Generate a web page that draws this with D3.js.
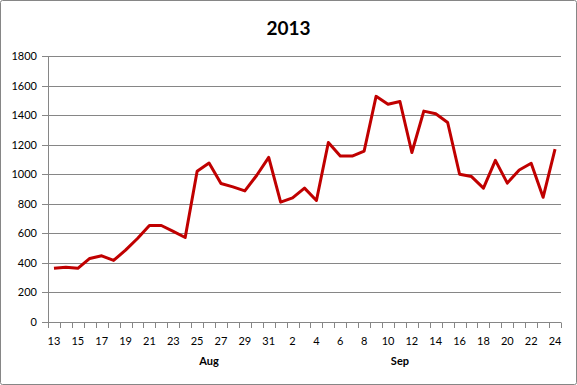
<!DOCTYPE html>
<html lang="en">
<head>
<meta charset="utf-8">
<style type="text/css">
    body { margin: 0; background: #fff; }
    text { font-family: Lato, "Open Sans", sans-serif; fill: #000; }
    .grid line { stroke: #868686; stroke-width: 1px; }
</style>
</head>
<body>
<svg width="577" height="385"></svg>
<script src="https://d3js.org/d3.v7.min.js"></script>
<script type="text/javascript">

// day of month for each point, two-month daily run
var days = [13,14,15,16,17,18,19,20,21,22,23,24,25,26,27,28,29,30,31,
            1,2,3,4,5,6,7,8,9,10,11,12,13,14,15,16,17,18,19,20,21,22,23,24];
var values = [363,370,363,430,448,417,486,565,653,653,613,572,1020,1076,937,914,887,993,1114,
              811,840,906,822,1215,1123,1123,1157,1527,1473,1492,1147,1427,1409,1350,1000,984,906,1094,940,1029,1074,844,1170];
var months = ["Aug", "Sep"];
var monthAt = [13, 29];          // category index the month label sits under
var yTicks = [0,200,400,600,800,1000,1200,1400,1600,1800];

var svg = d3.select("svg"),
    width = +svg.attr("width"),
    height = +svg.attr("height");

var plotLeft = 48, plotRight = 561, plotTop = 56, plotBottom = 322;

svg.append("rect")
    .attr("x", 0.5).attr("y", 0.5)
    .attr("width", width - 1).attr("height", height - 1)
    .attr("rx", 2)
    .attr("fill", "#fff")
    .attr("stroke", "#868686");

svg.append("text")
    .attr("x", width / 2)
    .attr("y", 35)
    .attr("text-anchor", "middle")
    .style("font-size", "19px")
    .style("font-weight", "bold")
    .text("2013");

var idx = d3.range(values.length);
var x = d3.scaleBand().domain(idx).range([plotLeft, plotRight]);
var y = d3.scaleLinear().domain([0, 1800]).range([plotBottom, plotTop]);

// gridlines + y labels
var grid = svg.append("g").attr("class", "grid");
grid.selectAll("line")
    .data(yTicks)
    .enter().append("line")
    .attr("x1", plotLeft - 6).attr("x2", plotRight)
    .attr("y1", function (d) { return Math.round(y(d)) + 0.5; })
    .attr("y2", function (d) { return Math.round(y(d)) + 0.5; });

svg.append("g").selectAll("text")
    .data(yTicks)
    .enter().append("text")
    .attr("x", 37)
    .attr("y", function (d) { return y(d) + 4; })
    .attr("text-anchor", "end")
    .style("font-size", "11px")
    .text(function (d) { return d; });

// y axis line
svg.append("line")
    .attr("x1", plotLeft + 0.5).attr("x2", plotLeft + 0.5)
    .attr("y1", plotTop).attr("y2", plotBottom)
    .attr("stroke", "#868686");

// x ticks at category boundaries
var bounds = d3.range(values.length + 1).map(function (i) { return plotLeft + i * x.step(); });
svg.append("g").selectAll("line")
    .data(bounds)
    .enter().append("line")
    .attr("x1", function (d) { return Math.round(d) + 0.5; })
    .attr("x2", function (d) { return Math.round(d) + 0.5; })
    .attr("y1", Math.round(plotBottom) + 0.5)
    .attr("y2", Math.round(plotBottom) + 6)
    .attr("stroke", "#868686");

// day labels every other category
svg.append("g").selectAll("text")
    .data(idx.filter(function (i) { return i % 2 === 0; }))
    .enter().append("text")
    .attr("x", function (i) { return x(i) + x.bandwidth() / 2; })
    .attr("y", 345)
    .attr("text-anchor", "middle")
    .style("font-size", "11px")
    .text(function (i) { return days[i]; });

svg.append("g").selectAll("text")
    .data(months)
    .enter().append("text")
    .attr("x", function (d, k) { return x(monthAt[k]) + x.bandwidth() / 2; })
    .attr("y", 365)
    .attr("text-anchor", "middle")
    .style("font-size", "11px")
    .style("font-weight", "bold")
    .text(function (d) { return d; });

var line = d3.line()
    .x(function (d, i) { return x(i) + x.bandwidth() / 2; })
    .y(function (d) { return y(d); });

svg.append("path")
    .datum(values)
    .attr("fill", "none")
    .attr("stroke", "#C00000")
    .attr("stroke-width", 3)
    .attr("stroke-linejoin", "round")
    .attr("d", line);

</script>
</body>
</html>
